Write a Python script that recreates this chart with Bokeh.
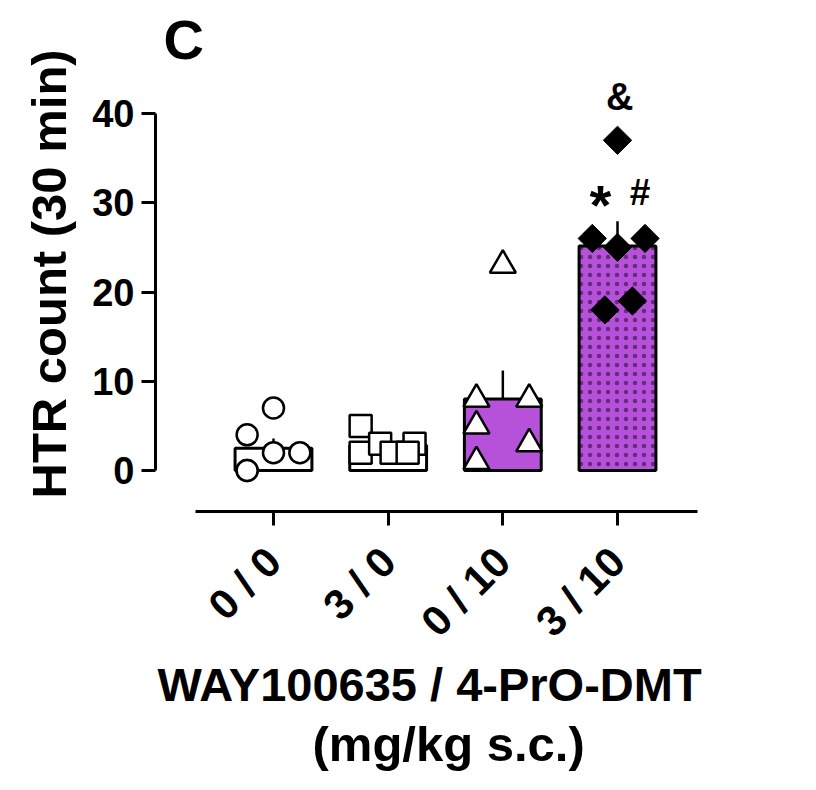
import numpy as np
from bokeh.plotting import figure
from bokeh.models import Range1d, FixedTicker, Label, Title
from bokeh.embed import file_html
from bokeh.resources import INLINE
from bokeh.core.properties import value

# ---------------- data ----------------
groups = ["0 / 0", "3 / 0", "0 / 10", "3 / 10"]
vals_00 = [7, 4, 2, 2, 0, 0]
vals_30 = [5, 2, 3, 3, 2, 2]
vals_010 = [23, 8, 8, 5, 3, 1]
vals_310 = [37, 26, 26, 25, 18, 19]
sig_labels = ["*", "#", "&"]
y_ticks = [0, 10, 20, 30, 40]

# ---------------- styling (scatter offsets within a group) ----------------
off_00 = [0.0, -0.23, 0.0, 0.23, -0.23, -0.23]
off_30 = [-0.24, -0.24, -0.07, 0.23, 0.03, 0.17]
off_010 = [0.0, -0.23, 0.23, -0.23, 0.23, -0.23]
off_310 = [0.0, -0.22, 0.24, 0.0, -0.11, 0.13]

FONT = "Liberation Sans"
PURPLE = "#b552d9"

all_vals = [vals_00, vals_30, vals_010, vals_310]
xs = [1, 2, 3, 4]
means = [float(np.mean(v)) for v in all_vals]
sems = [float(np.std(v, ddof=1) / np.sqrt(len(v))) for v in all_vals]

p = figure(width=800, height=774, output_backend="svg", toolbar_location=None,
           x_range=Range1d(-0.029, 4.75), y_range=Range1d(-4.59, 52.66),
           min_border_left=155, min_border_right=97, min_border_top=0,
           min_border_bottom=263)
p.outline_line_color = None
p.grid.visible = False
p.background_fill_color = "white"

# bars
p.vbar(x=xs[:2], top=means[:2], width=0.67, fill_color="white",
       line_color="black", line_width=3)
p.vbar(x=[xs[2]], top=[means[2]], width=0.67, fill_color=PURPLE,
       line_color="black", line_width=3)
p.vbar(x=[xs[3]], top=[means[3]], width=0.67, fill_color=PURPLE,
       line_color="black", line_width=3, hatch_pattern="dot",
       hatch_color="#5a2270", hatch_scale=9, hatch_weight=1, hatch_alpha=0.85)

# error bars (upper SEM)
p.segment(x0=xs, y0=means, x1=xs, y1=[m + s for m, s in zip(means, sems)],
          line_color="black", line_width=2.5)

# points
def px(g, offs):
    return [g + o for o in offs]

p.scatter(px(1, off_00), vals_00, marker="circle", size=21, fill_color="white",
          line_color="black", line_width=2.5)
p.scatter(px(2, off_30), vals_30, marker="square", size=22, fill_color="white",
          line_color="black", line_width=2.5)
p.scatter(px(3, off_010), vals_010, marker="triangle", size=26, fill_color="white",
          line_color="black", line_width=2.5)
p.scatter(px(4, off_310), vals_310, marker="square", angle=np.pi / 4, size=20,
          fill_color="black", line_color="black", line_width=1)

# significance marks
top4 = means[3] + sems[3]
p.text(x=[4 - 0.15], y=[top4 + 1.9], text=sig_labels[:1],
       text_font=value(FONT), text_font_style="bold", text_font_size="56px",
       text_align="center", text_baseline="middle", text_color="black")
p.text(x=[4 + 0.196], y=[top4 + 3.26], text=sig_labels[1:2],
       text_font=value(FONT), text_font_style="bold", text_font_size="37px",
       text_align="center", text_baseline="middle", text_color="black")
p.text(x=[4 + 0.02], y=[max(vals_310) + 4.9], text=sig_labels[2:],
       text_font=value(FONT), text_font_style="bold", text_font_size="38px",
       text_align="center", text_baseline="middle", text_color="black")

# panel letter
p.add_layout(Label(x=0.041, y=48.3, text="C", text_font=FONT, text_font_style="bold",
                   text_font_size="56px", text_color="black",
                   text_baseline="middle", text_align="left"))

# axes
for ax in (p.xaxis[0], p.yaxis[0]):
    ax.axis_line_width = 3
    ax.axis_line_color = "black"
    ax.major_tick_line_width = 3
    ax.major_tick_line_color = "black"
    ax.major_tick_out = 14
    ax.major_tick_in = 0
    ax.minor_tick_line_color = None
    ax.major_label_text_font = FONT
    ax.major_label_text_font_style = "bold"
    ax.major_label_text_color = "black"
    ax.axis_label_text_font = FONT
    ax.axis_label_text_font_style = "bold"
    ax.axis_label_text_color = "black"

p.yaxis.ticker = FixedTicker(ticks=y_ticks)
p.yaxis.bounds = (0, 40)
p.yaxis.major_label_text_font_size = "38px"
p.yaxis.major_label_standoff = 7

p.add_layout(Title(text="HTR count (30 min)", align="left", offset=13, standoff=28,
                   vertical_align="bottom", text_font=FONT, text_font_style="bold",
                   text_font_size="49px", text_color="black"), "left")

p.xaxis.ticker = FixedTicker(ticks=xs)
p.xaxis.major_label_overrides = {x: g for x, g in zip(xs, groups)}
p.xaxis.bounds = (0.32, 4.70)
p.xaxis.major_label_orientation = np.pi / 4
p.xaxis.major_label_text_font_size = "42px"
p.xaxis.major_label_standoff = 29
p.xaxis.axis_label = "WAY100635 / 4-PrO-DMT"
p.xaxis.axis_label_text_font_size = "47px"
p.xaxis.axis_label_standoff = -7

p.add_layout(Title(text="(mg/kg s.c.)", align="left", offset=157, standoff=0,
                   text_font=FONT, text_font_style="bold", text_font_size="49px",
                   text_color="black"), "below")

open("out.html", "w").write(file_html(p, INLINE))
